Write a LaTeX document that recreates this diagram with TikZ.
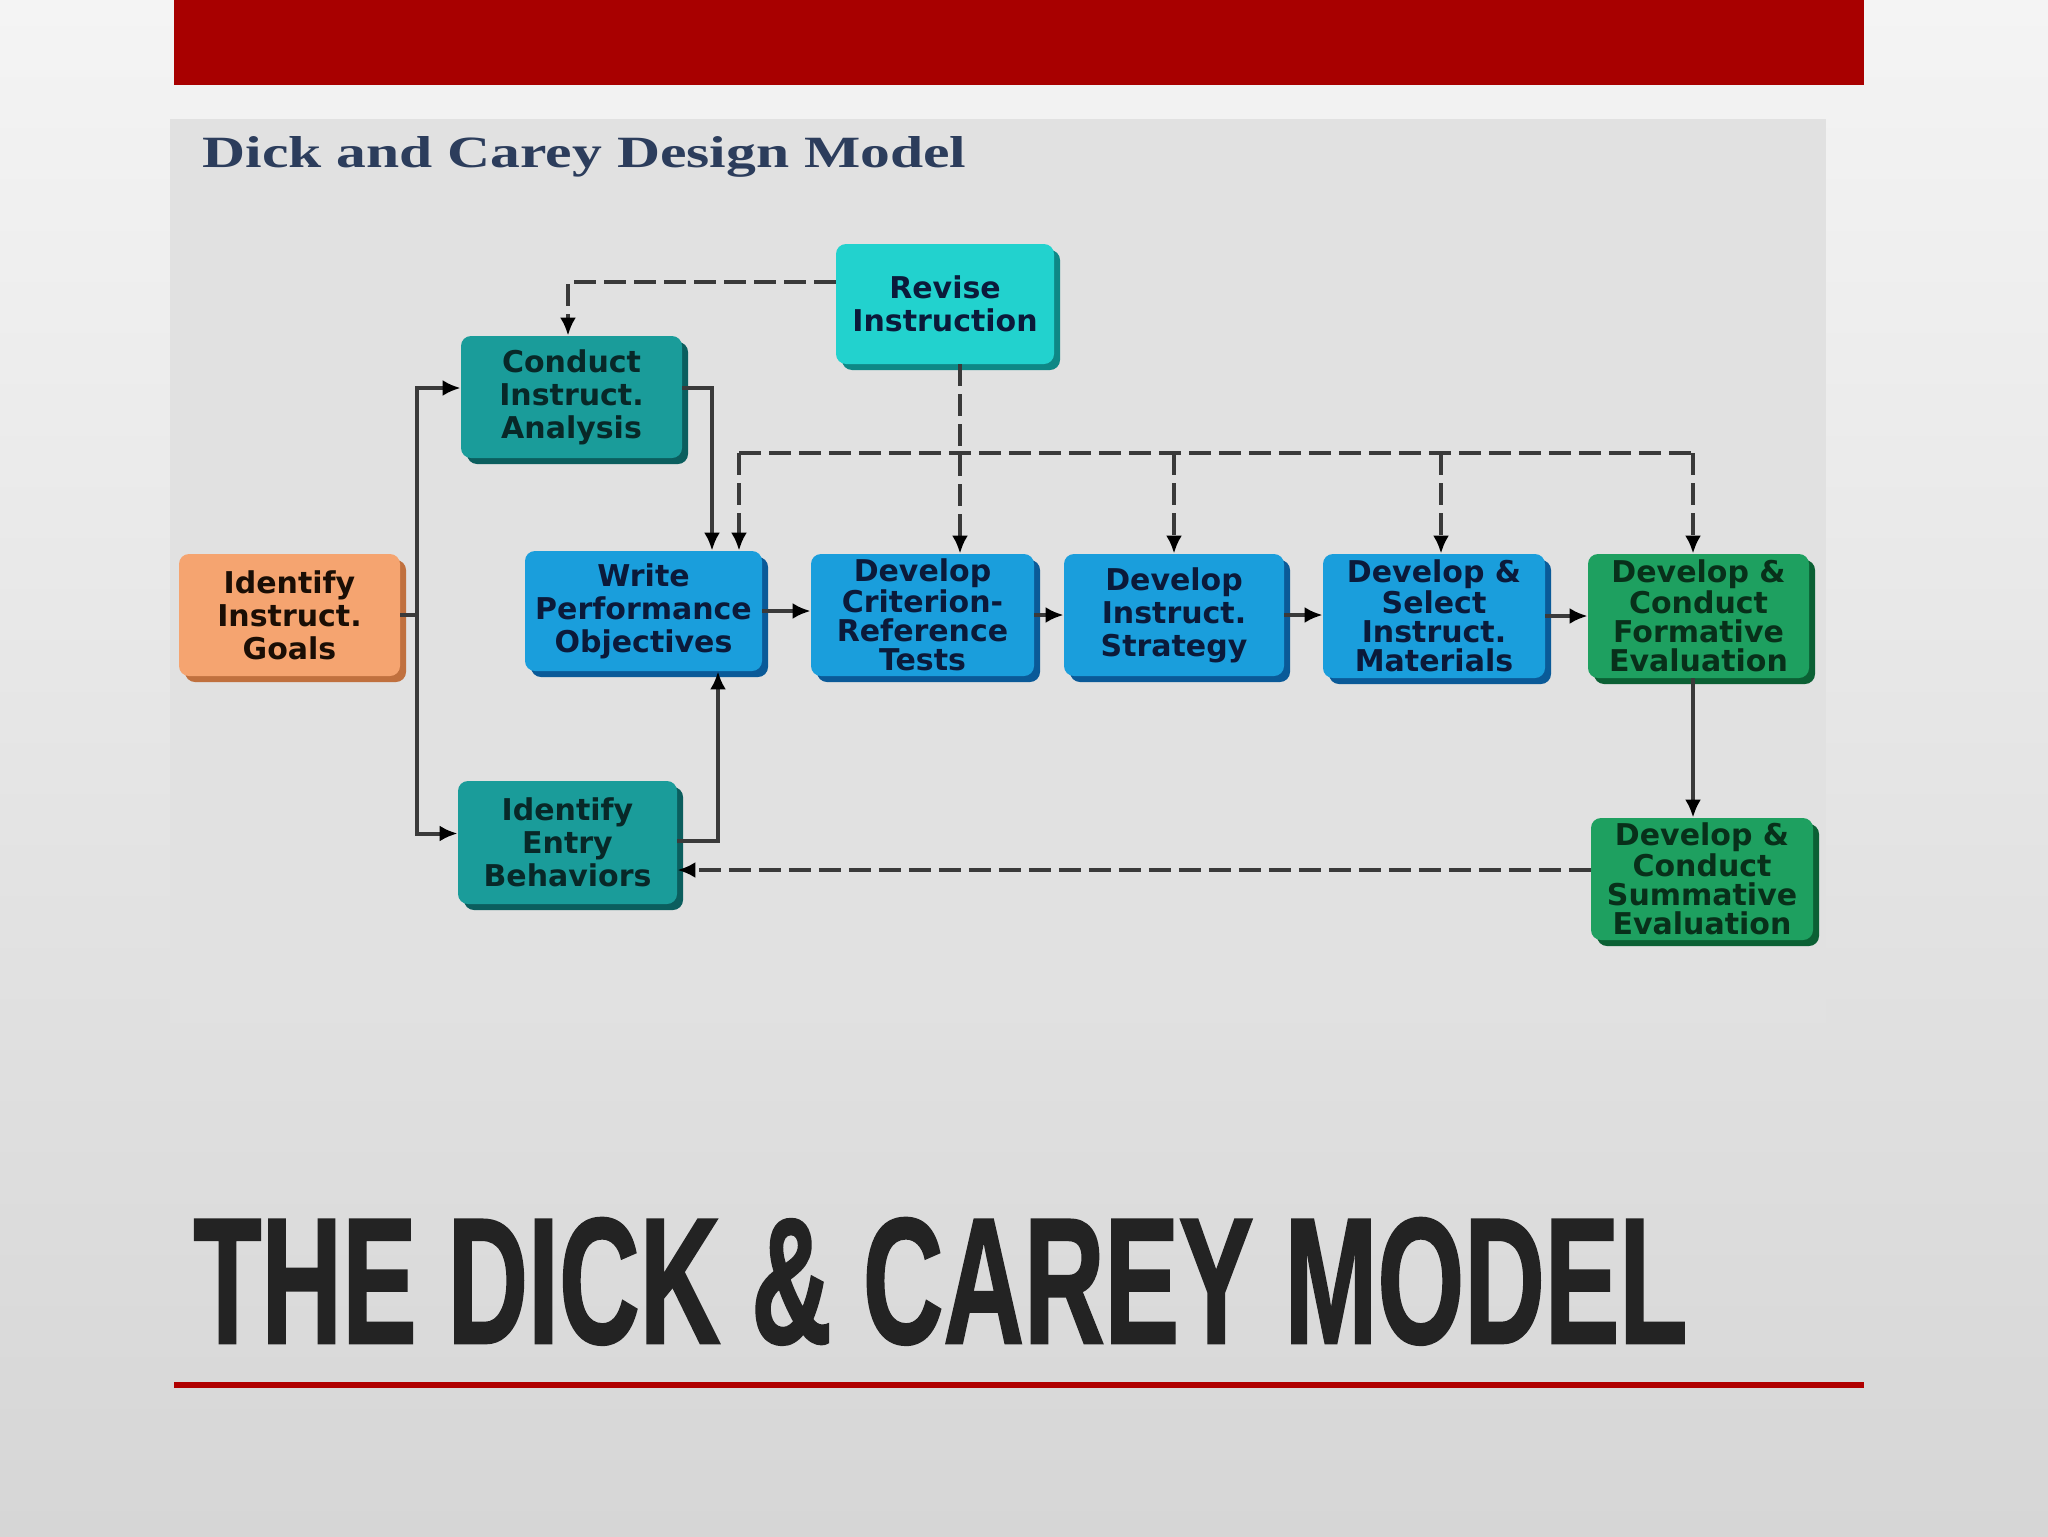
\documentclass[tikz,border=0pt]{standalone}
\usepackage{fontspec}
\usepackage{graphicx}
\usetikzlibrary{arrows.meta,calc,shadows}
\newfontfamily\boxfont{DejaVu Sans}
\newfontfamily\titlefont{Liberation Serif}
\newfontfamily\bigfont[FakeBold=1.5]{Liberation Sans}
\definecolor{bgtop}{HTML}{F4F4F4}
\definecolor{bgbot}{HTML}{D6D6D6}
\definecolor{panel}{HTML}{E1E1E1}
\definecolor{redbar}{HTML}{A80000}
\definecolor{redline}{HTML}{B00000}
\definecolor{titleC}{HTML}{2C3D5C}
\definecolor{bigC}{HTML}{232323}
\definecolor{lineC}{HTML}{3A3A3A}
\definecolor{cyanF}{HTML}{22D2CE}
\definecolor{cyanS}{HTML}{0E8886}
\definecolor{tealF}{HTML}{1A9C9A}
\definecolor{tealS}{HTML}{0B5E5E}
\definecolor{orF}{HTML}{F5A470}
\definecolor{orS}{HTML}{C0703E}
\definecolor{blF}{HTML}{1A9EDC}
\definecolor{blS}{HTML}{0A5A98}
\definecolor{grF}{HTML}{1EA060}
\definecolor{grS}{HTML}{0B6034}
\definecolor{txN}{HTML}{0B1A3A}
\definecolor{txT}{HTML}{082828}
\definecolor{txG}{HTML}{08301A}
\definecolor{txO}{HTML}{1A0E05}
\tikzset{
  box/.style 2 args={rounded corners=5pt, fill=#1, inner sep=0pt, align=center,
    drop shadow={shadow xshift=3pt, shadow yshift=-3pt, fill=#2, opacity=1}},
  three/.style={font=\boxfont\bfseries\fontsize{15}{16.5}\selectfont},
  four/.style={font=\boxfont\bfseries\fontsize{15}{14.5}\selectfont},
  conn/.style={draw=lineC, line width=2pt},
  tip/.style={-{Latex[length=9pt,width=8pt,color=black]}},
  dsh/.style={dash pattern=on 11pt off 4pt}
}
\begin{document}
\begin{tikzpicture}[x=0.5pt,y=-0.5pt]
\useasboundingbox (0,0) rectangle (2048,1536);
\shade[top color=bgtop, bottom color=bgbot] (0,0) rectangle (2048,1536);
% red bars
\fill[redbar] (174,0) rectangle (1864,85);
\fill[redline] (174,1382) rectangle (1864,1388);
% panel
\fill[panel] (170,119) rectangle (1826,1023);
\node[anchor=base west, inner sep=0pt, text=titleC] (ttl) at (202,167)
  {\resizebox{382pt}{15.5pt}{\titlefont\bfseries Dick and Carey Design Model}};
\node[anchor=base west, inner sep=0pt, text=bigC] (big) at (193,1343)
  {\resizebox{747pt}{62.5pt}{\bigfont\bfseries THE DICK \& CAREY MODEL}};
% boxes
\node[box={cyanF}{cyanS}, three, text=txN, minimum width=109pt, minimum height=60pt] (rev) at (945,304) {Revise\\Instruction};
\node[box={tealF}{tealS}, three, text=txT, minimum width=110.5pt, minimum height=61pt] (cia) at (571.5,397) {Conduct\\Instruct.\\Analysis};
\node[box={orF}{orS}, three, text=txO, minimum width=110.5pt, minimum height=61pt] (goal) at (289.5,615) {Identify\\Instruct.\\Goals};
\node[box={blF}{blS}, three, text=txN, minimum width=118.5pt, minimum height=60pt] (wpo) at (643.5,611) {Write\\Performance\\Objectives};
\node[box={blF}{blS}, four, text=txN, minimum width=111.5pt, minimum height=61pt] (crt) at (922.5,615) {Develop\\Criterion-\\Reference\\Tests};
\node[box={blF}{blS}, three, text=txN, minimum width=110pt, minimum height=61pt] (strat) at (1174,615) {Develop\\Instruct.\\Strategy};
\node[box={blF}{blS}, four, text=txN, minimum width=111pt, minimum height=62pt] (mat) at (1434,616) {Develop \&\\Select\\Instruct.\\Materials};
\node[box={grF}{grS}, four, text=txG, minimum width=110.5pt, minimum height=62pt] (form) at (1698.5,616) {Develop \&\\Conduct\\Formative\\Evaluation};
\node[box={tealF}{tealS}, three, text=txT, minimum width=109.5pt, minimum height=61.5pt] (ieb) at (567.5,842.5) {Identify\\Entry\\Behaviors};
\node[box={grF}{grS}, four, text=txG, minimum width=111pt, minimum height=61pt] (sum) at (1702,879) {Develop \&\\Conduct\\Summative\\Evaluation};
% helper coordinates
\coordinate (j1) at (417,615);
\coordinate (busL) at (739,453);
\coordinate (busR) at (1693,453);
\coordinate (fs) at ($(form.south)+(-5.5,0)$);
\coordinate (mn) at ($(mat.north)+(7,0)$);
\coordinate (wn) at ($(wpo.north)+(68.5,0)$);
\coordinate (ws) at ($(wpo.south)+(74.5,0)$);
\coordinate (cn) at ($(cia.north)+(-3.5,0)$);
\coordinate (rs) at ($(rev.south)+(15,0)$);
\coordinate (ctn) at ($(crt.north)+(37.5,0)$);
% solid connectors
\draw[conn] (goal.east) -- (j1);
\draw[conn,tip] (j1) |- ([yshift=4.5pt]cia.west);
\draw[conn,tip] (j1) |- ([yshift=4.5pt]ieb.west);
\draw[conn,tip] ([yshift=4.5pt]cia.east) -| (wn);
\draw[conn,tip] ([yshift=1pt]ieb.east) -| (ws);
\draw[conn,tip] (wpo.east) -- (wpo.east -| crt.west);
\draw[conn,tip] (crt.east) -- (crt.east -| strat.west);
\draw[conn,tip] (strat.east) -- (strat.east -| mat.west);
\draw[conn,tip] (mat.east) -- (mat.east -| form.west);
\draw[conn,tip] (fs) -- (fs |- sum.north);
% dashed connectors
\draw[conn,dsh,tip] ([yshift=11pt]rev.west) -| (cn);
\draw[conn,dsh,tip] (rs) -- (ctn);
\draw[conn,dsh] (busL) -- (busR);
\draw[conn,dsh,tip] (busL) -- (busL |- wpo.north);
\draw[conn,dsh,tip] (busR) -- (busR |- form.north);
\draw[conn,dsh,tip] (strat.north |- busL) -- (strat.north);
\draw[conn,dsh,tip] (mn |- busL) -- (mn);
\draw[conn,dsh,tip] ([yshift=4.5pt]sum.west) -- ([yshift=4.5pt]sum.west -| ieb.east);
\end{tikzpicture}
\end{document}
